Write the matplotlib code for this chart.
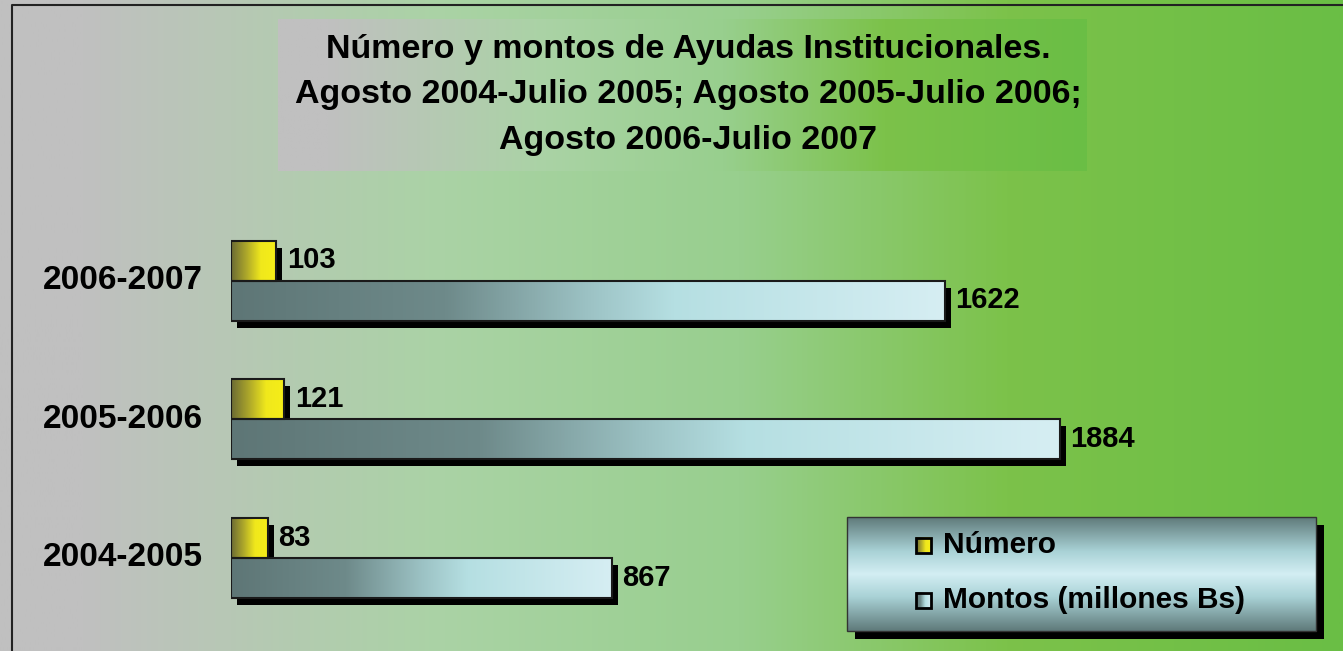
import matplotlib
matplotlib.use("Agg")
import matplotlib.pyplot as plt
import numpy as np
from matplotlib import transforms, font_manager
from matplotlib.colors import LinearSegmentedColormap
from matplotlib.patches import Rectangle

# ---- data -----------------------------------------------------------------
periodos = ["2004-2005", "2005-2006", "2006-2007"]
numero = [83, 121, 103]
montos = [867, 1884, 1622]
series = ["Número", "Montos (millones Bs)"]
titulo = ("Número y montos de Ayudas Institucionales.\n"
          "Agosto 2004-Julio 2005; Agosto 2005-Julio 2006;\n"
          "Agosto 2006-Julio 2007")

W, H = 1343, 651
plt.rcParams["font.family"] = ["Liberation Sans", "DejaVu Sans"]
plt.rcParams["font.weight"] = "bold"

_names = {f.name for f in font_manager.fontManager.ttflist}
NARROW = "Liberation Sans Narrow" if "Liberation Sans Narrow" in _names else "Liberation Sans"

fondo = LinearSegmentedColormap.from_list("fondo", [
    (0, "#c0c0c0"), (0.06, "#c0c0c0"), (0.33, "#aad3a5"),
    (0.55, "#98cf8e"), (0.75, "#7cc24a"), (1, "#6abe45")])
cmap_num = LinearSegmentedColormap.from_list("num", [
    (0, "#6a6a34"), (0.35, "#b0aa2a"), (0.65, "#f0e81c"), (1, "#f6ee18")])
cmap_mon = LinearSegmentedColormap.from_list("mon", [
    (0, "#5e7676"), (0.3, "#6e8a8a"), (0.5, "#9cc2c4"),
    (0.62, "#b5dfe2"), (1, "#d6eef3")])
cmap_leg = LinearSegmentedColormap.from_list("leg", [
    (0, "#5f7a7a"), (0.3, "#a9d2d6"), (0.5, "#d3eef3"),
    (0.7, "#a9d2d6"), (1, "#5f7a7a")])

hgrad = np.linspace(0, 1, 512).reshape(1, -1)
vgrad = np.linspace(0, 1, 256).reshape(-1, 1)

fig = plt.figure(figsize=(W / 100, H / 100), dpi=100)

# ---- background, frame, title (pixel coords) ------------------------------
bg = fig.add_axes([0, 0, 1, 1])
bg.set_axis_off()
bg.imshow(hgrad, cmap=fondo, extent=(0, W, H, 0), aspect="auto", zorder=0)
bg.imshow(hgrad, cmap=fondo, extent=(278, 1087, 171, 19), aspect="auto", zorder=1)
bg.plot([12, 12, W], [H, 5, 5], color="#222222", lw=1.5, zorder=2)
bg.text(688, 95, titulo, ha="center", va="center", fontsize=24.5,
        linespacing=1.6, zorder=3)

# legend box
lx0, lx1, ly0, ly1 = 847, 1316, 517, 631
bg.add_patch(Rectangle((lx0 + 8, ly0 + 8), lx1 - lx0, ly1 - ly0,
                       fc="black", ec="none", zorder=4))
bg.imshow(vgrad, cmap=cmap_leg, extent=(lx0, lx1, ly1, ly0), aspect="auto", zorder=5)
bg.add_patch(Rectangle((lx0, ly0), lx1 - lx0, ly1 - ly0, fill=False,
                       ec="#333333", lw=1, zorder=6))
for name, cm, yc in zip(series, (cmap_num, cmap_mon), (545, 600)):
    bg.imshow(hgrad, cmap=cm, extent=(916, 931, yc + 7.5, yc - 7.5),
              aspect="auto", zorder=6)
    bg.add_patch(Rectangle((916, yc - 7.5), 15, 15, fill=False, ec="black",
                           lw=2, zorder=7))
    bg.text(943, yc, name, ha="left", va="center", fontsize=21.5, zorder=7)
bg.set_xlim(0, W)
bg.set_ylim(H, 0)

# ---- bars -----------------------------------------------------------------
x0 = 231
ax = fig.add_axes([x0 / W, 0, 1 - x0 / W, 1])
ax.set_axis_off()
ax.patch.set_alpha(0)
h = 40 / 138.5
shadow = ax.transData + transforms.ScaledTranslation(6 / 100, -7 / 100, fig.dpi_scale_trans)


def gradient_bar(xa, xb, ya, yb, cm):
    ax.add_patch(Rectangle((xa, ya), xb - xa, yb - ya, fc="black", ec="none",
                           transform=shadow, zorder=2))
    ax.imshow(hgrad, cmap=cm, extent=(xa, xb, ya, yb), aspect="auto",
              interpolation="bilinear", zorder=3)
    ax.add_patch(Rectangle((xa, ya), xb - xa, yb - ya, fill=False,
                           ec="#1a1a1a", lw=1.5, zorder=4))


for i, (p, n, m) in enumerate(zip(periodos, numero, montos)):
    gradient_bar(0, n, i, i + h, cmap_num)
    gradient_bar(0, m, i - h, i, cmap_mon)
    ax.annotate(str(n), xy=(n, i + h / 2), xytext=(11, 0), textcoords="offset pixels",
                ha="left", va="center", fontsize=21, family=NARROW, zorder=5)
    ax.annotate(str(m), xy=(m, i - h / 2), xytext=(10, 0), textcoords="offset pixels",
                ha="left", va="center", fontsize=21, family=NARROW, zorder=5)
    ax.annotate(p, xy=(0, i), xytext=(-28, 0), textcoords="offset pixels",
                ha="right", va="center", fontsize=24, annotation_clip=False, zorder=5)

ax.set_xlim(0, (W - x0) / 0.44)
ax.set_ylim(-93.5 / 138.5, 557.5 / 138.5)

fig.savefig("out.png", dpi=100)
